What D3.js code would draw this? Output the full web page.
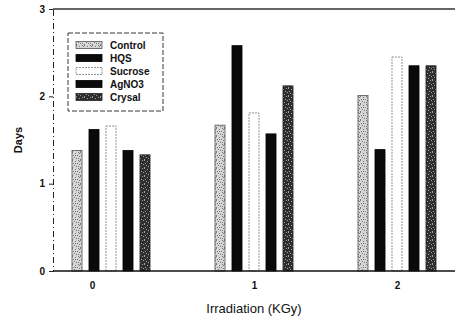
<!DOCTYPE html>
<html>
<head>
<meta charset="utf-8">
<script src="https://cdn.jsdelivr.net/npm/d3@7"></script>
<style>
  body { margin: 0; background: #fff; }
  svg { display: block; font-family: "Liberation Sans", Arial, sans-serif; }
</style>
</head>
<body>
<svg id="chart" width="463" height="329"></svg>
<script>
// --- Data ---
const doses = ["0", "1", "2"];
const treatments = ["Control", "HQS", "Sucrose", "AgNO3", "Crysal"];
const control = [1.38, 1.67, 2.01];
const hqs     = [1.62, 2.58, 1.39];
const sucrose = [1.66, 1.81, 2.45];
const agno3   = [1.38, 1.57, 2.35];
const crysal  = [1.33, 2.12, 2.35];
const yTicks = [0, 1, 2, 3];

const seriesValues = [control, hqs, sucrose, agno3, crysal];

// --- Layout ---
const svg = d3.select("#chart");
const plotLeft = 53, plotRight = 455, plotTop = 9, plotBottom = 271;

// --- Fill patterns (scanned stipple look) ---
const defs = svg.append("defs");
const dots = [[0,0],[3,1],[6,0],[1,3],[5,3],[2,5],[7,4],[4,6],[0,7],[6,6],[3,3],[7,1]];
function stipple(id, bg, fg, count) {
  const p = defs.append("pattern").attr("id", id)
    .attr("patternUnits", "userSpaceOnUse").attr("width", 8).attr("height", 8);
  p.append("rect").attr("width", 8).attr("height", 8).attr("fill", bg);
  dots.slice(0, count).forEach(([px, py]) => {
    p.append("rect").attr("x", px).attr("y", py).attr("width", 1).attr("height", 1).attr("fill", fg);
  });
}
stipple("pControl", "#d6d6d6", "#7a7a7a", 12);
stipple("pCrysal", "#2e2e2e", "#a0a0a0", 9);

const fills = {
  Control: { fill: "url(#pControl)", stroke: "#555", dash: null },
  HQS:     { fill: "#0a0a0a", stroke: "#000", dash: null },
  Sucrose: { fill: "#ffffff", stroke: "#777", dash: "2,1" },
  AgNO3:   { fill: "#0a0a0a", stroke: "#000", dash: null },
  Crysal:  { fill: "url(#pCrysal)", stroke: "#222", dash: null }
};

// --- Scales ---
const x0 = d3.scalePoint().domain(doses).range([111, 397]);
const x1 = d3.scaleBand().domain(treatments).range([-42.5, 42.5])
  .paddingInner(0.41).paddingOuter(0.205);
const y = d3.scaleLinear().domain([0, 3]).range([plotBottom, plotTop]);

// --- Frame line on top ---
svg.append("line").attr("x1", plotLeft).attr("x2", plotRight).attr("y1", plotTop).attr("y2", plotTop)
  .attr("stroke", "#333").attr("stroke-width", 1.3);

// --- Bars ---
const barData = [];
doses.forEach((d, i) => {
  treatments.forEach((t, j) => {
    barData.push({ dose: d, treatment: t, value: seriesValues[j][i] });
  });
});

svg.append("g").selectAll("rect")
  .data(barData)
  .enter()
  .append("rect")
  .attr("x", d => x0(d.dose) + x1(d.treatment))
  .attr("y", d => y(d.value))
  .attr("width", x1.bandwidth())
  .attr("height", d => y(0) - y(d.value))
  .attr("fill", d => fills[d.treatment].fill)
  .attr("stroke", d => fills[d.treatment].stroke)
  .attr("stroke-dasharray", d => fills[d.treatment].dash)
  .attr("stroke-width", 0.8);

// --- Y axis ---
const yAxis = svg.append("g")
  .attr("transform", `translate(${plotLeft},0)`)
  .call(d3.axisLeft(y).tickValues(yTicks).tickFormat(d3.format("d")).tickSize(4).tickPadding(4));
yAxis.select(".domain").attr("stroke", "#222").attr("stroke-dasharray", "6,3,1,3");
yAxis.selectAll("text").style("font-size", "10px").style("font-weight", "bold").attr("fill", "#111");
yAxis.selectAll(".tick line").attr("stroke", "#222");

// --- X axis ---
const xAxis = svg.append("g")
  .attr("transform", `translate(0,${plotBottom})`)
  .call(d3.axisBottom(x0).tickSize(0).tickPadding(11));
xAxis.select(".domain").attr("d", `M${plotLeft},0H${plotRight}`).attr("stroke", "#111").attr("stroke-width", 1.5);
xAxis.selectAll("text").style("font-size", "10px").style("font-weight", "bold").attr("fill", "#111")
  .attr("dx", (d, i) => i === 0 ? -19 : 0);

// --- Axis titles ---
svg.append("text")
  .attr("x", 254).attr("y", 313)
  .attr("text-anchor", "middle")
  .style("font-size", "13px").attr("fill", "#111")
  .text("Irradiation (KGy)");

svg.append("text")
  .attr("transform", "translate(22,140) rotate(-90)")
  .attr("text-anchor", "middle")
  .style("font-size", "11px").style("font-weight", "bold").attr("fill", "#111")
  .text("Days");

// --- Legend ---
const legend = svg.append("g").attr("transform", "translate(68,33)");
legend.append("rect")
  .attr("width", 95).attr("height", 78)
  .attr("fill", "#fff").attr("stroke", "#222")
  .attr("stroke-dasharray", "5,2").attr("stroke-width", 0.9);

const rows = legend.selectAll("g.row")
  .data(treatments)
  .enter()
  .append("g")
  .attr("class", "row")
  .attr("transform", (d, i) => `translate(8,${12 + i * 13})`);

rows.append("rect")
  .attr("y", -3.5).attr("width", 26).attr("height", 7)
  .attr("fill", d => fills[d].fill)
  .attr("stroke", d => fills[d].stroke)
  .attr("stroke-dasharray", d => fills[d].dash)
  .attr("stroke-width", 0.8);

rows.append("text")
  .attr("x", 34).attr("y", 4)
  .style("font-size", "10px").style("font-weight", "bold").attr("fill", "#111")
  .text(d => d);
</script>
</body>
</html>
